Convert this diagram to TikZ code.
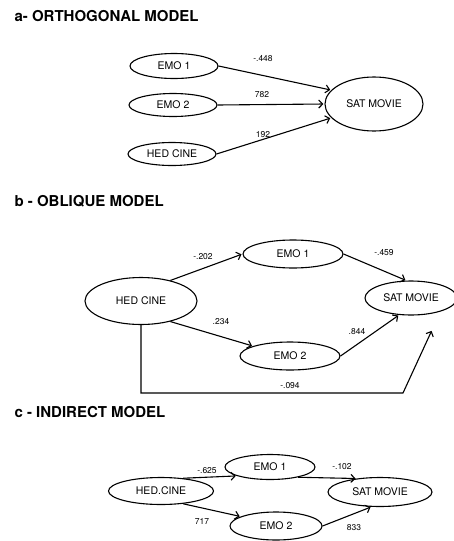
\documentclass[tikz,border=0pt]{standalone}
\usepackage{fontspec}
\setmainfont{TeX Gyre Heros}
\usetikzlibrary{shapes.geometric,arrows.meta}
\tikzset{
  var/.style={draw, line width=1.1pt, ellipse, inner sep=0pt, font=\fontsize{10.5}{12}\selectfont},
  path/.style={line width=1.1pt, -{Straight Barb[length=4pt,width=8pt]}, shorten >=1pt},
  coef/.style={font=\fontsize{8.5}{9}\selectfont},
  titolo/.style={anchor=west, font=\bfseries\fontsize{15}{17}\selectfont},
}
\begin{document}
\begin{tikzpicture}[x=1pt,y=-1pt]
\useasboundingbox (0,0) rectangle (454,541);

%a - modello ortogonale
\node[titolo] at (11,16) (titA) {a- ORTHOGONAL MODEL};

\node[var, minimum width=88, minimum height=25] at (174,66) (emo1A) {EMO 1};
\node[var, minimum width=88, minimum height=23] at (173,105) (emo2A) {EMO 2};
\node[var, minimum width=88, minimum height=23] at (172,154) (hedA) {HED CINE};
\node[var, minimum width=98, minimum height=54] at (374,104) (satA) {SAT MOVIE};

\draw[path] (emo1A.east) -- (satA.162);
\node[coef] at (263,59) (c1A) {-.448};

\draw[path] (emo2A.east) -- (satA.west);
\node[coef] at (262,95) (c2A) {782};

\draw[path] (hedA.east) -- (satA.198);
\node[coef] at (263,135) (c3A) {192};

%b - modello obliquo
\node[titolo] at (11,201) (titB) {b - OBLIQUE MODEL};

\node[var, minimum width=112, minimum height=47] at (141,301) (hedB) {HED CINE};
\node[var, minimum width=100, minimum height=28] at (293,254) (emo1B) {EMO 1};
\node[var, minimum width=100, minimum height=28] at (290,356) (emo2B) {EMO 2};
\node[var, minimum width=92, minimum height=34] at (411,298) (satB) {SAT MOVIE};

\draw[path] (hedB.35) -- (emo1B.west);
\node[coef] at (203,257) (c1B) {-.202};

\draw[path] (emo1B.east) -- (satB.105);
\node[coef] at (384,253) (c2B) {-.459};

\draw[path] (hedB.-35) -- (emo2B.165);
\node[coef] at (221,322) (c3B) {.234};

\draw[path] (emo2B.east) -- (satB.235);
\node[coef] at (357,332) (c4B) {.844};

% da hed cine in fondo
\coordinate (gomB) at (403,393);
\coordinate (fineB) at (432,330);
\draw[path] (hedB.south) -- (hedB.south |- gomB) -- (gomB) -- (fineB);
\node[coef] at (290,386) (c5B) {-.094};

%c - modello indiretto
\node[titolo] at (11,412) (titC) {c - INDIRECT MODEL};

\node[var, minimum width=105, minimum height=27] at (161,491) (hedC) {HED.CINE};
\node[var, minimum width=90, minimum height=25] at (270,467) (emo1C) {EMO 1};
\node[var, minimum width=92, minimum height=28] at (276,526) (emo2C) {EMO 2};
\node[var, minimum width=104, minimum height=29] at (380,492) (satC) {SAT MOVIE};

\draw[path] (hedC.30) -- (emo1C.195);
\node[coef] at (207,471) (c1C) {-.625};

\draw[path] (hedC.-30) -- (emo2C.165);
\node[coef] at (202,521) (c2C) {717};

\draw[path] (emo1C.-20) -- (satC.150);
\node[coef] at (342,467) (c3C) {-.102};

\draw[path] (emo2C.east) -- (satC.-120);
\node[coef] at (354,528) (c4C) {833};

\end{tikzpicture}
\end{document}
